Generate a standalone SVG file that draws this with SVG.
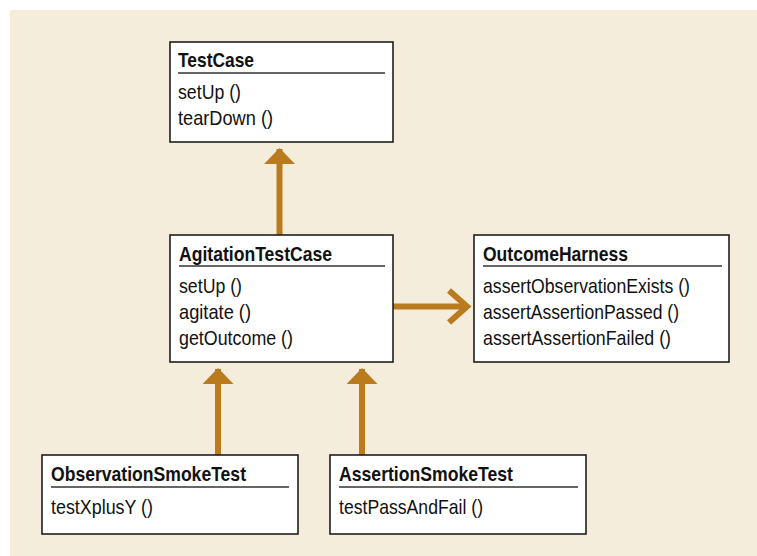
<svg xmlns="http://www.w3.org/2000/svg" width="757" height="556" viewBox="0 0 757 556">
<style>
.bg{fill:#F5EDDC}
.box{fill:#FFFFFF;stroke:#1E1E1E;stroke-width:1.6}
.sep{stroke:#333333;stroke-width:1.5}
.t{font-family:"Liberation Sans",Arial,sans-serif;font-size:21px;fill:#111111}
.b{font-weight:bold}
.conn{stroke:#BA7A1E;stroke-width:6;fill:none}
</style>
<defs>
<marker id="tri" viewBox="0 0 16 31" refX="15" refY="15.5" markerWidth="16" markerHeight="31" markerUnits="userSpaceOnUse" orient="auto">
<path d="M0,0 L16,15.5 L0,31 Z" fill="#BA7A1E"/>
</marker>
<marker id="open" viewBox="-5 -5 28 42" refX="18" refY="16" markerWidth="28" markerHeight="42" markerUnits="userSpaceOnUse" orient="auto">
<path d="M0,0 L18,16 L0,32" fill="none" stroke="#BA7A1E" stroke-width="6"/>
</marker>
</defs>
<rect class="bg" x="10" y="10" width="747" height="546"/>
<g id="connectors">
<line class="conn" x1="279.5" y1="235" x2="279.5" y2="149" marker-end="url(#tri)"/>
<line class="conn" x1="218" y1="455" x2="218" y2="369" marker-end="url(#tri)"/>
<line class="conn" x1="362" y1="455" x2="362" y2="369" marker-end="url(#tri)"/>
<line class="conn" x1="393" y1="306.5" x2="467" y2="306.5" marker-end="url(#open)"/>
</g>
<g id="TestCase">
<rect class="box" x="170" y="42" width="223" height="100"/>
<text class="t b" x="178" y="67" textLength="76" lengthAdjust="spacingAndGlyphs">TestCase</text>
<line class="sep" x1="178" y1="73" x2="385" y2="73"/>
<text class="t" x="178" y="99" textLength="63" lengthAdjust="spacingAndGlyphs">setUp ()</text>
<text class="t" x="178" y="125" textLength="95" lengthAdjust="spacingAndGlyphs">tearDown ()</text>
</g>
<g id="AgitationTestCase">
<rect class="box" x="170" y="235" width="223" height="127"/>
<text class="t b" x="179" y="261" textLength="153" lengthAdjust="spacingAndGlyphs">AgitationTestCase</text>
<line class="sep" x1="179" y1="266" x2="385" y2="266"/>
<text class="t" x="179" y="293" textLength="63" lengthAdjust="spacingAndGlyphs">setUp ()</text>
<text class="t" x="179" y="319" textLength="72" lengthAdjust="spacingAndGlyphs">agitate ()</text>
<text class="t" x="179" y="345" textLength="114" lengthAdjust="spacingAndGlyphs">getOutcome ()</text>
</g>
<g id="OutcomeHarness">
<rect class="box" x="474" y="235" width="255" height="127"/>
<text class="t b" x="483" y="261" textLength="145" lengthAdjust="spacingAndGlyphs">OutcomeHarness</text>
<line class="sep" x1="483" y1="266" x2="722" y2="266"/>
<text class="t" x="483" y="293" textLength="207" lengthAdjust="spacingAndGlyphs">assertObservationExists ()</text>
<text class="t" x="483" y="319" textLength="196" lengthAdjust="spacingAndGlyphs">assertAssertionPassed ()</text>
<text class="t" x="483" y="345" textLength="188" lengthAdjust="spacingAndGlyphs">assertAssertionFailed ()</text>
</g>
<g id="ObservationSmokeTest">
<rect class="box" x="42" y="455" width="256" height="79"/>
<text class="t b" x="51" y="481" textLength="195" lengthAdjust="spacingAndGlyphs">ObservationSmokeTest</text>
<line class="sep" x1="51" y1="487" x2="289" y2="487"/>
<text class="t" x="51" y="514" textLength="102" lengthAdjust="spacingAndGlyphs">testXplusY ()</text>
</g>
<g id="AssertionSmokeTest">
<rect class="box" x="330" y="455" width="256" height="79"/>
<text class="t b" x="339" y="481" textLength="174" lengthAdjust="spacingAndGlyphs">AssertionSmokeTest</text>
<line class="sep" x1="339" y1="487" x2="578" y2="487"/>
<text class="t" x="339" y="514" textLength="144" lengthAdjust="spacingAndGlyphs">testPassAndFail ()</text>
</g>
</svg>
